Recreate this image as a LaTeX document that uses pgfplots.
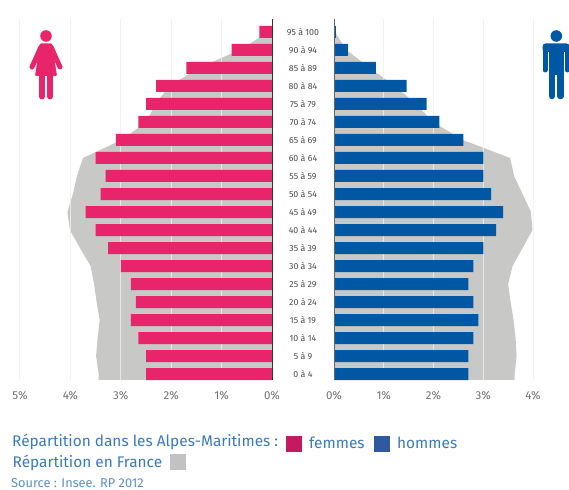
\documentclass[border=0pt]{standalone}
\usepackage{pgfplots}
\pgfplotsset{compat=1.18}
\usepackage{pgfplotstable}
\usepackage{fontspec}
\setmainfont{Fira Sans}
\definecolor{fem}{HTML}{E8246A}
\definecolor{hom}{HTML}{0057A4}
\definecolor{fra}{HTML}{C8C8C6}
\definecolor{gridc}{HTML}{EFEFEF}
\definecolor{legf}{HTML}{C41A62}
\definecolor{legh}{HTML}{2F5AA0}
\definecolor{legg}{HTML}{C2C2C2}
\definecolor{txtb}{HTML}{3A7ABF}
\definecolor{srcb}{HTML}{5B90C8}
\definecolor{tick}{HTML}{707070}
\pgfplotstableread{
y f h ff fh
0 2.5 2.7 3.44 3.63
1 2.5 2.7 3.49 3.67
2 2.65 2.8 3.46 3.65
3 2.8 2.9 3.42 3.61
4 2.7 2.8 3.48 3.55
5 2.8 2.7 3.53 3.50
6 3.0 2.8 3.60 3.59
7 3.25 3.0 3.81 3.79
8 3.5 3.26 4.01 3.99
9 3.7 3.4 4.06 3.96
10 3.4 3.16 3.95 3.79
11 3.3 3.0 3.87 3.62
12 3.5 3.0 3.75 3.54
13 3.1 2.6 2.99 2.59
14 2.65 2.12 2.49 1.99
15 2.5 1.86 2.32 1.65
16 2.3 1.46 2.03 1.22
17 1.7 0.84 1.46 0.72
18 0.8 0.28 0.64 0.25
19 0.25 0.04 0.07 0.02
}\pyr
\pgfplotsset{pyr/.style={
  scale only axis, height=361pt,
  ymin=-0.33, ymax=19.72, xmin=0,
  axis line style={draw=none},
  xtick style={draw=none}, ytick style={draw=none},
  xticklabel style={font=\fontsize{11.5}{12}\selectfont, text=tick, yshift=-8pt},
  clip=false,
}}
\begin{document}
\begin{tikzpicture}[x=1pt,y=1pt]
\path[use as bounding box] (0,0) rectangle (569,489);
\begin{axis}[pyr, at={(272pt,109pt)}, anchor=south east, width=252pt, xmax=5, x dir=reverse,
  xtick={0,1,2,3,4,5}, xticklabels={0\%,1\%,2\%,3\%,4\%,5\%}, ytick=\empty]
\addplot[fill=fra, draw=none] table[x=ff,y=y] {\pyr} -- (axis cs:0,19) -- (axis cs:0,-0.33) -- (axis cs:3.44,-0.33) -- cycle;
\addplot[gridc, line width=1pt, opacity=.8] coordinates {(1,-0.33)(1,19.72)};
\addplot[gridc, line width=1pt, opacity=.8] coordinates {(2,-0.33)(2,19.72)};
\addplot[gridc, line width=1pt, opacity=.8] coordinates {(3,-0.33)(3,19.72)};
\addplot[gridc, line width=1pt, opacity=.8] coordinates {(4,-0.33)(4,19.72)};
\addplot[gridc, line width=1pt, opacity=.8] coordinates {(5,-0.33)(5,19.72)};
\addplot[xbar, bar width=12pt, bar shift=0pt, fill=fem, draw=none] table[x=f,y=y] {\pyr};
\addplot[black!80, line width=1pt] coordinates {(0,-0.33)(0,19.72)};
\end{axis}
\begin{axis}[pyr, at={(334pt,109pt)}, anchor=south west, width=199pt, xmax=4,
  xtick={0,1,2,3,4}, xticklabels={0\%,1\%,2\%,3\%,4\%},
  ytick={0,...,19},
  yticklabels={0 à 4,5 à 9,10 à 14,15 à 19,20 à 24,25 à 29,30 à 34,35 à 39,40 à 44,45 à 49,50 à 54,55 à 59,60 à 64,65 à 69,70 à 74,75 à 79,80 à 84,85 à 89,90 à 94,95 à 100},
  yticklabel style={font=\fontsize{8.8}{9}\selectfont, text=black!70, anchor=center, xshift=-31pt}]
\addplot[fill=fra, draw=none] table[x=fh,y=y] {\pyr} -- (axis cs:0,19) -- (axis cs:0,-0.33) -- (axis cs:3.63,-0.33) -- cycle;
\addplot[gridc, line width=1pt, opacity=.8] coordinates {(1,-0.33)(1,19.72)};
\addplot[gridc, line width=1pt, opacity=.8] coordinates {(2,-0.33)(2,19.72)};
\addplot[gridc, line width=1pt, opacity=.8] coordinates {(3,-0.33)(3,19.72)};
\addplot[gridc, line width=1pt, opacity=.8] coordinates {(4,-0.33)(4,19.72)};
\addplot[xbar, bar width=12pt, bar shift=0pt, fill=hom, draw=none] table[x=h,y=y] {\pyr};
\addplot[black!60, line width=1pt] coordinates {(0,-0.33)(0,19.72)};
\end{axis}
% woman icon
\begin{scope}[shift={(0,489)},y=-1pt]
\fill[fem] (46,36) circle (5.8);
\fill[fem,rounded corners=1pt] (40,43.5) -- (52,43.5) -- (57,76) -- (35,76) -- cycle;
\draw[fem,line width=5pt,line cap=round] (41,47) -- (32,67);
\draw[fem,line width=5pt,line cap=round] (51,47) -- (60,67);
\draw[fem,line width=6pt,line cap=round] (41.7,75) -- (41.7,96.5);
\draw[fem,line width=6pt,line cap=round] (50.3,75) -- (50.3,96.5);
% man icon
\fill[hom] (556.3,36) circle (5.8);
\fill[hom,rounded corners=3pt] (542.5,43.5) rectangle (569.5,52);
\draw[hom,line width=5pt,line cap=round] (545,47) -- (545,70);
\draw[hom,line width=5pt,line cap=round] (567,47) -- (567,70);
\fill[hom] (548.5,45) rectangle (564,75);
\draw[hom,line width=6.5pt,line cap=round] (552,72) -- (552,96);
\draw[hom,line width=6.5pt,line cap=round] (560.5,72) -- (560.5,96);
% legend
\node[anchor=base west,inner sep=0,text=txtb,font=\fontsize{15.4}{16}\selectfont] at (12,447) {Répartition dans les Alpes-Maritimes :};
\fill[legf] (286,436) rectangle (302,452);
\node[anchor=base west,inner sep=0,text=txtb,font=\fontsize{15.4}{16}\selectfont] at (309,449) {femmes};
\fill[legh] (374,436) rectangle (390,452);
\node[anchor=base west,inner sep=0,text=txtb,font=\fontsize{15.4}{16}\selectfont] at (397,449) {hommes};
\node[anchor=base west,inner sep=0,text=txtb,font=\fontsize{15.4}{16}\selectfont] at (12.5,467) {Répartition en France};
\fill[legg] (170,454) rectangle (186,470);
\node[anchor=base west,inner sep=0,text=srcb,font=\fontsize{12.8}{14}\selectfont] at (11,487) {Source : Insee. RP 2012};
\end{scope}
\end{tikzpicture}
\end{document}
